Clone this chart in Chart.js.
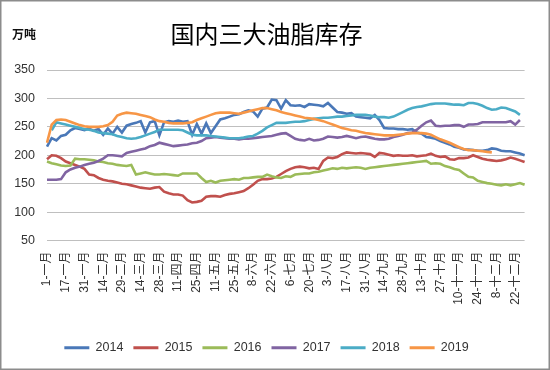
<!DOCTYPE html>
<html>
<head>
<meta charset="utf-8">
<script src="https://cdn.jsdelivr.net/npm/chart.js@4.4.1/dist/chart.umd.min.js"></script>
<style>
html,body{margin:0;padding:0;background:#fff;}
canvas{display:block;}
</style>
</head>
<body>
<canvas id="c" width="550" height="370"></canvas>
<script>
const titleText = '国内三大油脂库存';
const unitText = '万吨';
const tickLabels = ['1-一月','17-一月','31-一月','14-二月','29-二月','14-三月','28-三月','11-四月','25-四月','11-五月','25-五月','8-六月','22-六月','6-七月','20-七月','3-八月','17-八月','31-八月','14-九月','28-九月','13-十月','27-十月','10-十一月','24-十一月','8-十二月','22-十二月'];
const yTicks = [50, 100, 150, 200, 250, 300, 350];
const seriesNames = ['2014','2015','2016','2017','2018','2019'];
const seriesColors = ['#4a78b8','#c0504d','#9bbb59','#8064a2','#4bacc6','#f79646'];

const s2014 = [215,230,226,234,236,244,248,246,244,247,
243,246,236,247,238,250,240,252,255,257,
260,240,258,260,235,258,260,259,261,259,
260,236,255,238,256,239,251,263,265,268,
271,272,276,279,277,268,282,284,298,297,
282,297,288,287,288,285,290,289,288,286,
292,284,276,275,273,274,268,267,266,265,
271,262,248,247,247,246,246,245,246,240,
238,232,231,229,225,222,219,215,213,210,
210,209,208,208,209,212,211,208,207,207,
205,203,200];
const s2015 = [193,200,199,195,189,186,183,180,176,166,
165,160,157,155,154,152,150,149,147,145,
143,142,141,143,144,136,133,131,131,129,
121,117,118,120,127,128,128,127,130,132,
133,135,137,142,148,155,158,158,159,162,
167,172,176,179,180,179,177,178,176,190,
196,195,197,202,205,204,203,204,203,202,
197,204,203,201,199,200,199,199,200,198,
199,200,203,199,197,198,193,192,195,195,
196,200,197,194,192,191,190,191,193,196,
194,191,188];
const s2016 = [189,186,184,182,181,182,194,193,193,192,
191,189,188,186,185,183,182,181,183,166,
168,170,168,166,166,167,166,165,164,168,
168,168,168,160,153,155,152,155,156,157,
158,157,160,160,161,162,162,166,163,161,
160,163,162,166,167,168,168,170,171,173,
175,177,176,178,177,178,179,178,176,178,
179,180,181,182,183,184,185,186,187,188,
189,190,185,186,185,181,179,176,174,168,
162,161,155,153,151,150,148,147,149,147,
149,151,148];
const s2017 = [157,157,157,158,170,175,178,180,183,185,
187,190,194,200,200,199,198,204,206,208,
210,212,216,218,222,220,218,216,217,218,
219,221,222,225,230,231,232,231,230,229,
229,228,229,229,230,231,232,233,234,236,
238,239,234,229,227,226,229,226,227,229,
233,232,231,232,234,232,230,232,233,231,
229,228,228,229,232,234,236,239,240,245,
252,258,261,252,251,252,252,253,253,250,
254,254,255,258,258,258,258,258,258,260,
254,262,null];
const s2018 = [null,244,258,256,254,252,250,248,246,245,
243,240,239,238,237,234,232,230,229,230,
232,235,238,241,245,245,245,245,245,244,
240,236,235,235,235,234,233,232,231,230,
230,230,231,233,234,238,243,249,253,257,
257,257,258,259,259,260,262,264,265,266,
266,267,268,268,269,270,271,271,271,270,
268,267,267,266,268,272,276,280,283,285,
286,288,290,291,291,291,290,289,289,288,
292,292,290,287,283,280,281,284,283,280,
277,271,null];
const s2019 = [222,254,262,263,262,259,256,253,251,250,
250,250,251,253,259,270,273,275,274,273,
271,269,267,263,260,259,257,256,256,256,
257,258,262,265,268,271,274,275,275,275,
274,273,275,277,279,281,283,283,281,279,
276,274,272,270,268,266,265,264,262,260,
257,254,251,248,246,244,243,241,239,238,
237,236,235,235,235,236,237,238,239,239,
239,238,236,232,228,225,222,218,214,211,
209,209,208,207,206,205,null,null,null,null,
null,null,null];

const allSeries = [s2014, s2015, s2016, s2017, s2018, s2019];
const pointsPerTick = 4;
const categories = s2014.map((v, i) => (i % pointsPerTick === 0 && tickLabels[i / pointsPerTick]) ? tickLabels[i / pointsPerTick] : '');

Chart.defaults.font.family = '"Liberation Sans", "Noto Sans CJK SC", sans-serif';
Chart.defaults.color = '#333';

const decor = {
  id: 'decor',
  afterDraw(chart) {
    const ctx = chart.ctx;
    ctx.save();
    ctx.fillStyle = '#111';
    ctx.font = 'bold 12px "Noto Sans CJK SC"';
    ctx.textAlign = 'left';
    ctx.textBaseline = 'middle';
    ctx.fillText(unitText, 12, 34);
    ctx.strokeStyle = '#8c8c8c';
    ctx.lineWidth = 1.5;
    ctx.strokeRect(0.75, 0.75, 548.5, 368.5);
    ctx.restore();
  }
};

new Chart(document.getElementById('c'), {
  type: 'line',
  data: {
    labels: categories,
    datasets: allSeries.map((d, i) => ({
      label: seriesNames[i],
      data: d,
      borderColor: seriesColors[i],
      backgroundColor: seriesColors[i],
      borderWidth: 2.6,
      pointRadius: 0,
      tension: 0,
      fill: false,
      order: allSeries.length - 1 - i
    }))
  },
  options: {
    responsive: false,
    animation: false,
    devicePixelRatio: 1,
    layout: { padding: { left: 0, right: 17, top: 0, bottom: 6 } },
    plugins: {
      tooltip: { enabled: false },
      title: {
        display: true,
        text: titleText,
        color: '#000',
        font: { family: '"Noto Sans CJK SC"', size: 24, weight: 'normal', lineHeight: 1.2 },
        padding: { top: 19.6, bottom: 21.6 }
      },
      legend: {
        position: 'bottom',
        labels: {
          boxWidth: 25,
          boxHeight: 3,
          padding: 10,
          color: '#333',
          font: { size: 12.5 },
          sort: (a, b) => a.datasetIndex - b.datasetIndex,
          generateLabels: (chart) => Chart.defaults.plugins.legend.labels.generateLabels(chart).map(l => Object.assign(l, { lineWidth: 0 }))
        }
      }
    },
    scales: {
      x: {
        type: 'category',
        grid: { display: false, drawTicks: false },
        border: { display: false },
        ticks: {
          autoSkip: false,
          maxRotation: 90,
          minRotation: 90,
          padding: 11,
          color: '#333',
          font: { size: 12 },
          callback: function(val, idx) { return categories[idx]; }
        },
        afterFit: (scale) => { scale.height = 91; }
      },
      y: {
        min: yTicks[0],
        max: yTicks[yTicks.length - 1],
        grid: { color: '#bfbfbf', lineWidth: 1, drawTicks: false },
        border: { display: false },
        ticks: {
          stepSize: 50,
          autoSkip: false,
          padding: 12,
          color: '#333',
          font: { size: 12.5 },
          callback: (v) => yTicks.includes(v) ? String(v) : ''
        },
        afterFit: (scale) => { scale.width = 47; }
      }
    }
  },
  plugins: [decor]
});
</script>
</body>
</html>
